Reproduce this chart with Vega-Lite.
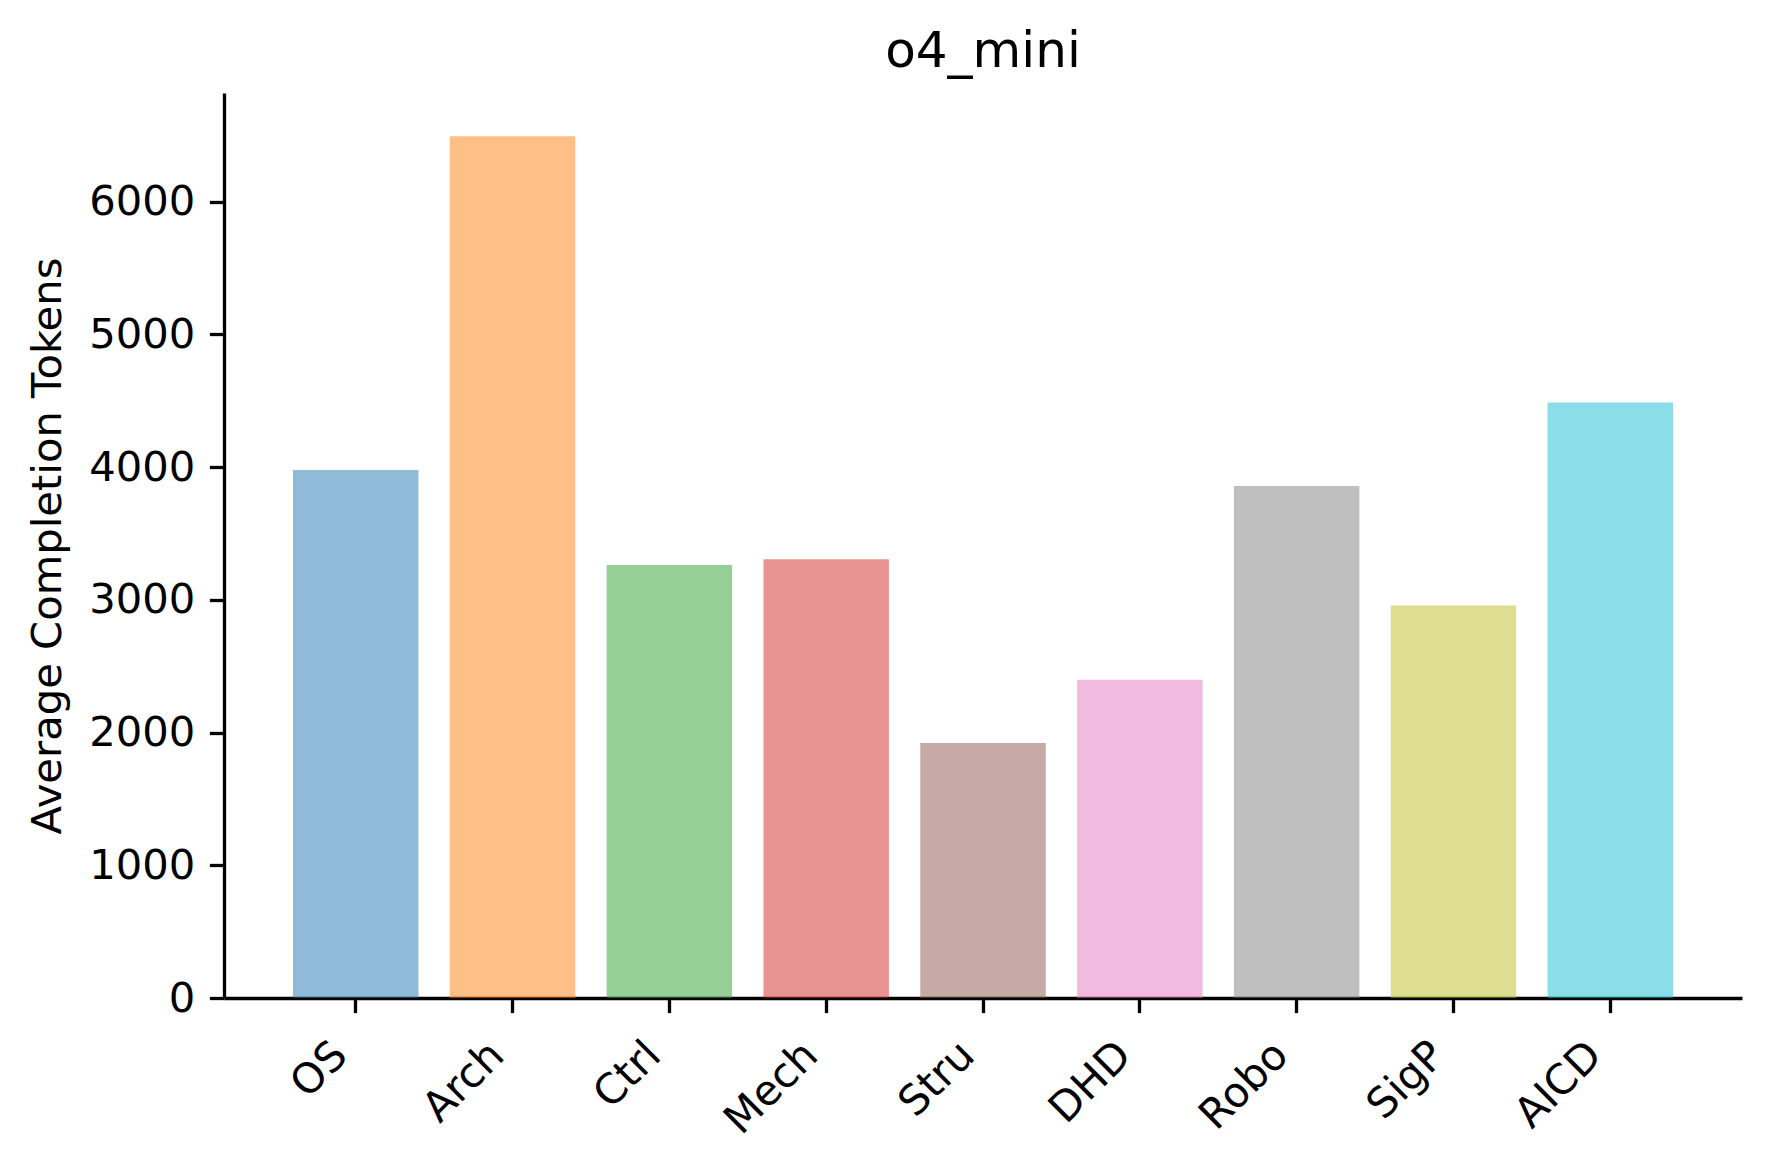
{
  "$schema": "https://vega.github.io/schema/vega-lite/v6.json",
  "width": 1518,
  "height": 905,
  "autosize": {"type": "none"},
  "padding": {"left": 224, "top": 93, "right": 28, "bottom": 168},
  "background": "white",
  "config": {
    "view": {"stroke": null},
    "font": "DejaVu Sans"
  },
  "title": {
    "text": "o4_mini",
    "fontSize": 50,
    "font": "DejaVu Sans",
    "fontWeight": "normal",
    "color": "black",
    "anchor": "middle",
    "frame": "group",
    "baseline": "bottom",
    "offset": -34
  },
  "data": {
    "values": [
      {"cat": "OS", "val": 3977},
      {"cat": "Arch", "val": 6493},
      {"cat": "Ctrl", "val": 3263},
      {"cat": "Mech", "val": 3306},
      {"cat": "Stru", "val": 1921},
      {"cat": "DHD", "val": 2397},
      {"cat": "Robo", "val": 3858},
      {"cat": "SigP", "val": 2957},
      {"cat": "AICD", "val": 4487}
    ]
  },
  "mark": {"type": "bar", "opacity": 0.5},
  "encoding": {
    "x": {
      "field": "cat",
      "type": "nominal",
      "sort": null,
      "scale": {"paddingInner": 0.2, "paddingOuter": 0.44},
      "axis": {
        "title": null,
        "labelAngle": -45,
        "labelAlign": "right",
        "labelBaseline": "bottom",
        "labelFontSize": 41.7,
        "labelColor": "black",
        "labelPadding": 51,
        "tickSize": 14.6,
        "tickWidth": 3.3,
        "tickColor": "black",
        "domainColor": "black",
        "domainWidth": 3.3,
        "grid": false
      }
    },
    "y": {
      "field": "val",
      "type": "quantitative",
      "scale": {"domain": [0, 6818], "nice": false, "zero": true},
      "axis": {
        "title": "Average Completion Tokens",
        "titleFontSize": 41.7,
        "titleFontWeight": "normal",
        "titleColor": "black",
        "titlePadding": 19,
        "values": [0, 1000, 2000, 3000, 4000, 5000, 6000],
        "format": "d",
        "labelFontSize": 41.7,
        "labelColor": "black",
        "labelPadding": 14.6,
        "tickSize": 14.6,
        "tickWidth": 3.3,
        "tickColor": "black",
        "domainColor": "black",
        "domainWidth": 3.3,
        "grid": false
      }
    },
    "color": {
      "field": "cat",
      "type": "nominal",
      "sort": null,
      "legend": null,
      "scale": {"range": ["#1f77b4", "#ff7f0e", "#2ca02c", "#d62728", "#8c564b", "#e377c2", "#7f7f7f", "#bcbd22", "#17becf"]}
    }
  }
}
